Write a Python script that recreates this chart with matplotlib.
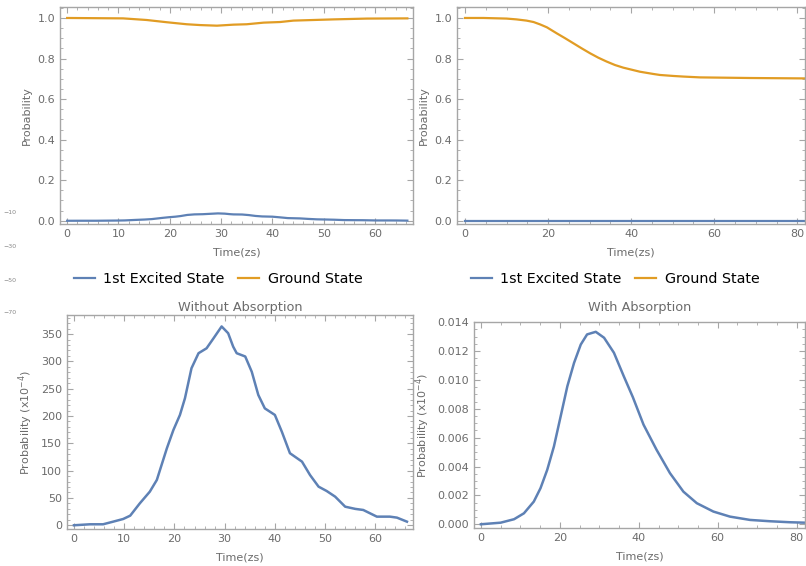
import numpy as np
import matplotlib.pyplot as plt
from matplotlib.ticker import MultipleLocator

# excited-state population without absorption, in units of 1e-4
t_free = [0, 3.2, 5.8, 7.8, 9.8, 11.2, 13.1, 15.1, 16.5, 18.5, 19.8, 21.1, 22.1,
          23.4, 24.8, 26.4, 27.8, 29.4, 30.7, 31.7, 32.4, 34.1, 35.4, 36.7, 38.0,
          40.0, 41.4, 43.0, 45.4, 47.0, 48.7, 50.3, 52.0, 54.0, 56.0, 57.6, 60.3,
          62.9, 64.3, 66.3]
p_free = [0, 1.8, 1.8, 6.6, 11.5, 17.6, 40, 61.5, 83, 141, 174.5, 202, 232.6,
          287.5, 315, 324, 342.5, 364, 351.6, 327, 315, 309, 281, 238.6, 214,
          202, 171, 131.9, 116.5, 92, 70.7, 62.8, 52.4, 34, 30, 28, 15.8,
          15.8, 14, 6.6]

# ground-state population without absorption
t_gnd_free = [0, 10.9, 15.5, 19.4, 23.3, 25.9, 29.2, 32.4, 35.0, 38.3, 41.5,
              44.1, 48.0, 51.9, 58.4, 66.3]
p_gnd_free = [1.0, 0.998, 0.99, 0.979, 0.969, 0.965, 0.962, 0.967, 0.969, 0.977,
              0.980, 0.987, 0.990, 0.993, 0.997, 0.998]

# excited-state population with absorption, in units of 1e-4
t_abs = [0, 5.0, 8.4, 10.9, 13.4, 15.1, 16.8, 18.5, 20.2, 21.9, 23.6, 25.3, 26.9,
         29.1, 31.2, 33.7, 36.2, 38.5, 41.2, 44.5, 47.9, 51.3, 54.7, 58.9, 63.1,
         68.2, 73.2, 78.3, 82.1]
p_abs = [0, 0.00011, 0.00035, 0.00076, 0.00157, 0.0025, 0.00377, 0.00539, 0.00747,
         0.00956, 0.01118, 0.01245, 0.01315, 0.01333, 0.01292, 0.01188, 0.01025,
         0.0088, 0.0069, 0.00516, 0.00354, 0.00226, 0.00146, 0.00088, 0.00053,
         0.0003, 0.00021, 0.00014, 0.00011]

# ground-state population with absorption
t_gnd_abs = [0, 4.4, 10, 12.4, 14.8, 16.5, 18.1, 19.7, 22.1, 24.1, 26.1, 28.1,
             30.1, 32.1, 34.1, 36.1, 38.1, 40.5, 42.1, 45.3, 46.9, 50.2, 52.6,
             56.6, 60.6, 68.6, 81.7]
p_gnd_abs = [1.0, 1.0, 0.997, 0.993, 0.987, 0.980, 0.968, 0.954, 0.924, 0.900,
             0.875, 0.850, 0.826, 0.804, 0.785, 0.768, 0.755, 0.743, 0.735, 0.724,
             0.719, 0.714, 0.711, 0.707, 0.706, 0.704, 0.702]

BLUE = '#5e81b5'
ORANGE = '#e19c24'
FRAME = '#a6a6a6'
TEXT = '#6b6b6b'

plt.rcParams['font.family'] = 'DejaVu Sans'

fig = plt.figure(figsize=(8.06, 5.66), dpi=100)


def style_frame(ax, xmaj, xmin, ymaj, ymin):
    for s in ax.spines.values():
        s.set_color(FRAME)
        s.set_linewidth(1.0)
    ax.xaxis.set_major_locator(MultipleLocator(xmaj))
    ax.xaxis.set_minor_locator(MultipleLocator(xmin))
    ax.yaxis.set_major_locator(MultipleLocator(ymaj))
    ax.yaxis.set_minor_locator(MultipleLocator(ymin))
    ax.tick_params(which='both', direction='in', top=True, right=True,
                   color=FRAME, labelcolor=TEXT, labelsize=8)
    ax.tick_params(which='major', length=4, width=0.8)
    ax.tick_params(which='minor', length=2, width=0.6)


def add_legend(handles, cx):
    fig.legend(handles, ['1st Excited State', 'Ground State'], loc='center',
               bbox_to_anchor=(cx / 806, 1 - 279 / 566), ncol=2, frameon=False,
               fontsize=10.3, handlelength=1.47, columnspacing=1.0,
               handletextpad=0.56)


ax1 = fig.add_axes([0.0744, 0.6042, 0.438, 0.3834])
l1, = ax1.plot(t_free, np.array(p_free) * 1e-4, color=BLUE, lw=1.6)
l2, = ax1.plot(t_gnd_free, p_gnd_free, color=ORANGE, lw=1.6)
ax1.set_xlim(-1.4, 67.4)
ax1.set_ylim(-0.016, 1.054)
style_frame(ax1, 10, 2, 0.2, 0.05)
ax1.set_xlabel('Time(zs)', color=TEXT, fontsize=8, labelpad=6)
ax1.set_ylabel('Probability', color=TEXT, fontsize=8)
add_legend([l1, l2], 218)

ax2 = fig.add_axes([0.567, 0.6042, 0.4318, 0.3834])
l3, = ax2.plot(t_abs, np.array(p_abs) * 1e-4, color=BLUE, lw=1.6)
l4, = ax2.plot(t_gnd_abs, p_gnd_abs, color=ORANGE, lw=1.6)
ax2.set_xlim(-1.93, 81.85)
ax2.set_ylim(-0.016, 1.054)
style_frame(ax2, 20, 5, 0.2, 0.05)
ax2.set_xlabel('Time(zs)', color=TEXT, fontsize=8, labelpad=6)
ax2.set_ylabel('Probability', color=TEXT, fontsize=8)
add_legend([l3, l4], 615)

ax3 = fig.add_axes([0.0831, 0.0654, 0.4293, 0.3781])
ax3.plot(t_free, p_free, color=BLUE, lw=1.8)
ax3.set_xlim(-1.39, 67.5)
ax3.set_ylim(-6.8, 385)
style_frame(ax3, 10, 2, 50, 10)
ax3.set_title('Without Absorption', color=TEXT, fontsize=9.3, pad=3)
ax3.set_xlabel('Time(zs)', color=TEXT, fontsize=8, labelpad=6)
ax3.set_ylabel(r'Probability (x$10^{-4}$)', color=TEXT, fontsize=8)

ax4 = fig.add_axes([0.588, 0.0671, 0.4107, 0.364])
ax4.plot(t_abs, p_abs, color=BLUE, lw=1.8)
ax4.set_xlim(-1.77, 82.1)
ax4.set_ylim(-0.00026, 0.01401)
style_frame(ax4, 20, 5, 0.002, 0.0005)
ax4.yaxis.set_major_formatter(plt.FormatStrFormatter('%.3f'))
ax4.set_title('With Absorption', color=TEXT, fontsize=9.3, pad=8)
ax4.set_xlabel('Time(zs)', color=TEXT, fontsize=8, labelpad=6)
ax4.set_ylabel(r'Probability (x$10^{-4}$)', color=TEXT, fontsize=8)

# leftover tick labels at the far left edge
for lab, yp in zip(['\u221210', '\u221230', '\u221250', '\u221270'], [213, 247, 280, 313]):
    fig.text(3 / 806, 1 - yp / 566, lab, fontsize=4.5, color='#888888', va='center')

fig.savefig('out.png', dpi=100)
